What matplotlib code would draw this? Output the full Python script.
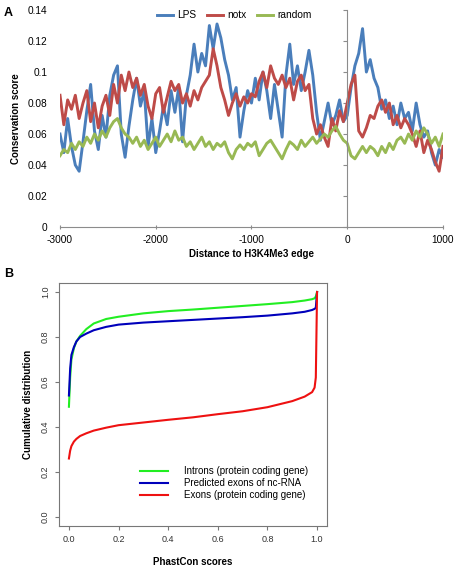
import numpy as np
import matplotlib
matplotlib.use("Agg")
import matplotlib.pyplot as plt

plt.rcParams['font.family'] = ['Liberation Sans', 'DejaVu Sans']

# ---- panel A data, every 40 bp ----
dist = np.arange(-3000, 1001, 40)

lps = [0.060, 0.048, 0.070, 0.052, 0.040, 0.036, 0.055, 0.075, 0.092, 0.062,
       0.050, 0.072, 0.058, 0.085, 0.098, 0.104, 0.060, 0.045, 0.065, 0.082,
       0.096, 0.078, 0.088, 0.052, 0.070, 0.048, 0.062, 0.078, 0.066, 0.088,
       0.074, 0.090, 0.055, 0.085, 0.098, 0.118, 0.100, 0.112, 0.104, 0.130,
       0.115, 0.131, 0.122, 0.108, 0.098, 0.082, 0.090, 0.058, 0.075, 0.088,
       0.080, 0.096, 0.082, 0.100, 0.088, 0.070, 0.092, 0.075, 0.058, 0.098,
       0.118, 0.092, 0.104, 0.088, 0.100, 0.114, 0.098, 0.074, 0.056, 0.068,
       0.080, 0.066, 0.072, 0.082, 0.068, 0.072, 0.090, 0.104, 0.112, 0.128,
       0.100, 0.108, 0.096, 0.090, 0.076, 0.082, 0.070, 0.078, 0.066, 0.080,
       0.070, 0.074, 0.062, 0.080, 0.066, 0.058, 0.062, 0.048, 0.040, 0.050, 0.045]

notx = [0.085, 0.066, 0.082, 0.076, 0.085, 0.070, 0.080, 0.088, 0.068, 0.080,
        0.064, 0.078, 0.085, 0.072, 0.092, 0.080, 0.098, 0.088, 0.100, 0.090,
        0.096, 0.085, 0.092, 0.078, 0.070, 0.086, 0.090, 0.074, 0.084, 0.094,
        0.088, 0.092, 0.080, 0.086, 0.078, 0.088, 0.082, 0.090, 0.094, 0.098,
        0.115, 0.104, 0.090, 0.082, 0.072, 0.080, 0.086, 0.078, 0.084, 0.080,
        0.086, 0.084, 0.094, 0.100, 0.090, 0.104, 0.096, 0.092, 0.098, 0.090,
        0.096, 0.082, 0.094, 0.098, 0.088, 0.092, 0.070, 0.060, 0.066, 0.058,
        0.052, 0.070, 0.062, 0.075, 0.068, 0.080, 0.092, 0.098, 0.062, 0.058,
        0.064, 0.072, 0.070, 0.078, 0.082, 0.074, 0.080, 0.066, 0.072, 0.064,
        0.070, 0.066, 0.060, 0.052, 0.062, 0.048, 0.056, 0.050, 0.042, 0.036, 0.052]

rand = [0.046, 0.050, 0.048, 0.054, 0.050, 0.055, 0.052, 0.058, 0.054, 0.060,
        0.056, 0.062, 0.058, 0.064, 0.068, 0.070, 0.064, 0.060, 0.058, 0.054,
        0.058, 0.052, 0.056, 0.050, 0.054, 0.058, 0.052, 0.056, 0.060, 0.055,
        0.062, 0.056, 0.058, 0.052, 0.055, 0.050, 0.054, 0.058, 0.052, 0.055,
        0.050, 0.054, 0.052, 0.055, 0.048, 0.044, 0.050, 0.053, 0.050, 0.054,
        0.052, 0.055, 0.046, 0.050, 0.054, 0.056, 0.052, 0.048, 0.044, 0.050,
        0.055, 0.053, 0.050, 0.056, 0.052, 0.055, 0.058, 0.054, 0.057, 0.060,
        0.058, 0.062, 0.065, 0.060, 0.056, 0.054, 0.046, 0.044, 0.048, 0.052,
        0.048, 0.052, 0.050, 0.046, 0.052, 0.048, 0.054, 0.050, 0.056, 0.058,
        0.054, 0.060, 0.056, 0.062, 0.058, 0.064, 0.060, 0.054, 0.058, 0.052, 0.060]

a_names = ['LPS', 'notx', 'random']
a_colors = ['#4a7ebb', '#be4b48', '#98b954']
a_xticks = [-3000, -2000, -1000, 0, 1000]
a_yticks = [0, 0.02, 0.04, 0.06, 0.08, 0.1, 0.12, 0.14]
a_ylabels = ['0', '0.02', '0.04', '0.06', '0.08', '0.1', '0.12', '0.14']

# ---- panel B data ----
phast = [0, 0.005, 0.01, 0.02, 0.03, 0.045, 0.07, 0.1, 0.15, 0.2, 0.3, 0.4,
         0.5, 0.6, 0.7, 0.8, 0.9, 0.95, 0.98, 0.99, 0.995, 1.0]
introns = [0.49, 0.62, 0.70, 0.75, 0.78, 0.805, 0.835, 0.86, 0.88, 0.89, 0.905, 0.915,
           0.922, 0.93, 0.938, 0.946, 0.955, 0.962, 0.968, 0.972, 0.98, 1.0]
ncrna = [0.54, 0.66, 0.72, 0.755, 0.78, 0.80, 0.815, 0.83, 0.845, 0.855, 0.864, 0.87,
         0.876, 0.882, 0.888, 0.895, 0.905, 0.912, 0.92, 0.925, 0.93, 1.0]
exons = [0.26, 0.295, 0.315, 0.335, 0.347, 0.36, 0.372, 0.384, 0.397, 0.408, 0.42, 0.432,
         0.443, 0.457, 0.47, 0.488, 0.515, 0.535, 0.555, 0.575, 0.62, 1.0]
b_names = ['Introns (protein coding gene)', 'Predicted exons of nc-RNA',
           'Exons (protein coding gene)']
b_colors = ['#22ee22', '#0000bb', '#ee1111']
b_ticks = [0.0, 0.2, 0.4, 0.6, 0.8, 1.0]

fig = plt.figure(figsize=(4.57, 5.67), dpi=100)

# ---------------- A ----------------
axA = fig.add_axes([0.1313, 0.5996, 0.838, 0.3827])
for ys, name, c in zip([lps, notx, rand], a_names, a_colors):
    axA.plot(dist, ys, color=c, lw=2.1, label=name)
axA.set_xlim(-3000, 1000)
axA.set_ylim(0, 0.14)
for s in ['top', 'right']:
    axA.spines[s].set_visible(False)
axA.spines['bottom'].set_color('#8c8c8c')
axA.spines['left'].set_position(('data', 0))
axA.spines['left'].set_color('#8c8c8c')
axA.set_yticks(a_yticks)
axA.tick_params(axis='y', length=3, color='#8c8c8c', labelleft=False)
axA.set_xticks(a_xticks)
axA.set_xticklabels([str(t) for t in a_xticks], fontsize=7.3)
axA.tick_params(axis='x', length=3, direction='inout', color='#8c8c8c', pad=4)
# y labels sit at the far left like excel does
sec = axA.secondary_yaxis(0)
sec.set_yticks(a_yticks)
sec.set_yticklabels(a_ylabels, fontsize=7.3)
sec.spines['left'].set_visible(False)
sec.tick_params(length=0, pad=9)
sec.set_ylabel('Conservation score', fontsize=7, fontweight='bold', labelpad=5)
axA.set_xlabel('Distance to H3K4Me3 edge', fontsize=7, fontweight='bold', labelpad=3)
axA.legend(loc='upper center', bbox_to_anchor=(0.455, 1.04), ncol=3, frameon=False,
           fontsize=7.3, handlelength=1.6, handletextpad=0.45, columnspacing=1.0)
fig.text(0.008, 0.987, 'A', fontsize=9, fontweight='bold', va='top')

# ---------------- B ----------------
axB = fig.add_axes([0.1291, 0.0723, 0.5864, 0.4286])
for ys, name, c in zip([introns, ncrna, exons], b_names, b_colors):
    axB.plot(phast, ys, color=c, lw=1.5, label=name)
axB.set_xlim(-0.04, 1.04)
axB.set_ylim(-0.04, 1.04)
for s in axB.spines.values():
    s.set_color('#777777')
axB.set_xticks(b_ticks)
axB.set_yticks(b_ticks)
axB.set_xticklabels(['%.1f' % t for t in b_ticks], fontsize=6.5, color='#333333')
axB.set_yticklabels(['%.1f' % t for t in b_ticks], fontsize=6.5, color='#333333',
                    rotation=90, va='center')
axB.tick_params(length=3, color='#777777')
axB.set_xlabel('PhastCon scores', fontsize=7, fontweight='bold', labelpad=9)
axB.set_ylabel('Cumulative distribution', fontsize=7, fontweight='bold', labelpad=6)
axB.legend(loc='lower left', bbox_to_anchor=(0.27, 0.07), frameon=False, fontsize=7,
           handlelength=2.9, handletextpad=1.6, labelspacing=0.22)
fig.text(0.008, 0.527, 'B', fontsize=9, fontweight='bold', va='top')

fig.savefig('out.png', dpi=100)
